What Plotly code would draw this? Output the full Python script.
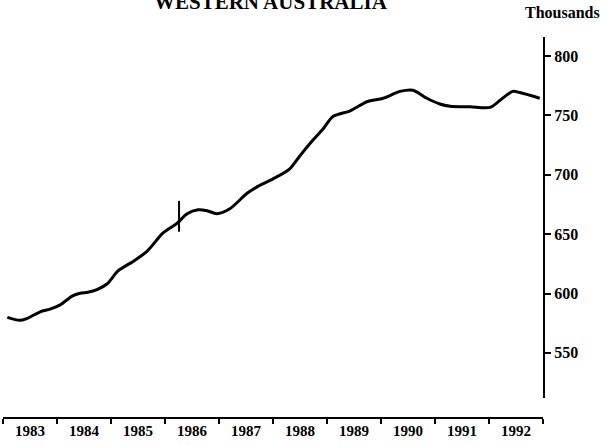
import plotly.graph_objects as go

# Data (thousands)
years = [1983.08, 1983.31, 1983.44, 1983.69, 1983.87, 1984.06, 1984.28, 1984.43,
         1984.57, 1984.74, 1984.93, 1985.13, 1985.41, 1985.67, 1985.96, 1986.22,
         1986.41, 1986.61, 1986.78, 1986.96, 1987.20, 1987.52, 1987.72, 1988.00,
         1988.31, 1988.50, 1988.74, 1988.93, 1989.11, 1989.43, 1989.74, 1990.04,
         1990.35, 1990.59, 1990.85, 1991.09, 1991.28, 1991.65, 1992.02, 1992.20,
         1992.44, 1992.57, 1992.94]
values = [579.9, 577.4, 578.9, 584.6, 586.8, 590.4, 597.8, 600.2,
          601.0, 603.2, 608.2, 619.0, 627.0, 635.7, 650.8, 659.0,
          667.2, 670.5, 669.7, 667.2, 671.3, 684.4, 690.2, 696.5,
          705.0, 716.0, 729.2, 738.7, 749.1, 753.8, 761.5, 764.4,
          770.2, 771.2, 764.4, 759.6, 757.7, 757.2, 756.7, 762.5,
          770.2, 769.2, 764.4]

# Series-break marker
break_x = [1986.26, 1986.26]
break_y = [678, 652]

year_ticks = [1983, 1984, 1985, 1986, 1987, 1988, 1989, 1990, 1991, 1992, 1993]
year_labels = ["1983", "1984", "1985", "1986", "1987", "1988", "1989", "1990", "1991", "1992", ""]
y_ticks = [550, 600, 650, 700, 750, 800]
y_labels = ["550", "600", "650", "700", "750", "800"]

FONT = "Liberation Serif"

fig = go.Figure()
fig.add_trace(go.Scatter(x=years, y=values, mode="lines",
                         line=dict(color="black", width=3, shape="spline", smoothing=0.8),
                         showlegend=False, hoverinfo="skip"))
fig.add_trace(go.Scatter(x=break_x, y=break_y, mode="lines",
                         line=dict(color="black", width=2),
                         showlegend=False, hoverinfo="skip"))

fig.update_layout(
    width=608, height=445,
    margin=dict(l=3, r=65, t=37, b=27),
    paper_bgcolor="white", plot_bgcolor="white",
    font=dict(family=FONT, color="black"),
    xaxis=dict(range=[1983, 1993], tickvals=year_ticks, ticktext=year_labels,
               ticks="outside", ticklen=5, tickwidth=2, tickcolor="black",
               showline=True, linecolor="black", linewidth=2,
               showgrid=False, zeroline=False, automargin=False,
               anchor="free", position=0,
               ticklabelshift=27, ticklabelstandoff=-6,
               tickfont=dict(family=FONT, size=15, color="black", weight="bold")),
    yaxis=dict(range=[512, 816], domain=[0.0525, 1], side="right",
               tickvals=y_ticks, ticktext=y_labels, automargin=False,
               ticks="outside", ticklen=6, tickwidth=2, tickcolor="black",
               showline=True, linecolor="black", linewidth=2,
               showgrid=False, zeroline=False,
               tickfont=dict(family=FONT, size=16, color="black", weight="bold")),
)

fig.add_annotation(text="WESTERN AUSTRALIA", xref="paper", yref="paper",
                   x=(271 - 3) / 540, y=(418 - 16) / 381, yanchor="bottom",
                   xanchor="center", showarrow=False,
                   font=dict(family=FONT, size=21, color="black", weight="bold"))
fig.add_annotation(text="Thousands", xref="paper", yref="paper",
                   x=(562 - 3) / 540, y=(418 - 13) / 381, xanchor="center", yanchor="middle",
                   showarrow=False,
                   font=dict(family=FONT, size=16, color="black", weight="bold"))

fig.write_html("out.html", config={"displayModeBar": False},
               post_script="document.body.style.margin='0';")
